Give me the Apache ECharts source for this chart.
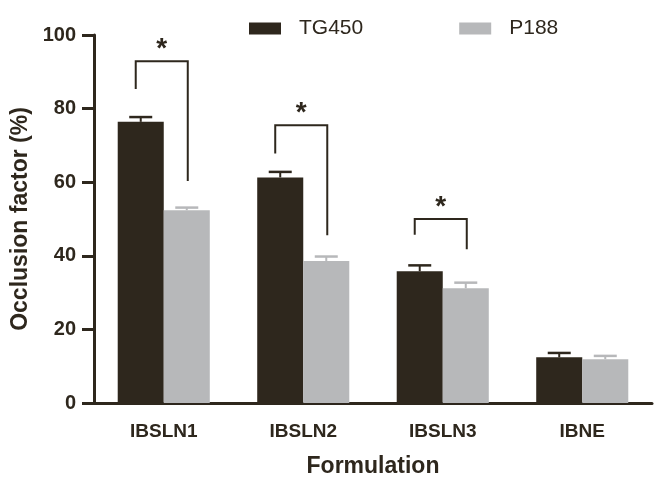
<!DOCTYPE html>
<html>
<head>
<meta charset="utf-8">
<script src="https://cdn.jsdelivr.net/npm/echarts@6/dist/echarts.min.js"></script>
<style>html,body{margin:0;padding:0;background:#fff}#c{width:654px;height:480px}</style>
</head>
<body>
<div id="c"></div>
<script>
var categories = ['IBSLN1', 'IBSLN2', 'IBSLN3', 'IBNE'];
var tg450 = [76.4, 61.3, 35.8, 12.4];
var tg450Err = [1.3, 1.5, 1.6, 1.2];
var p188 = [52.4, 38.6, 31.2, 11.9];
var p188Err = [0.7, 1.2, 1.5, 0.9];
var sigCats = [0, 1, 2];
var sigTop = [92.9, 75.5, 50.0];
var sigLeftEnd = [85.3, 67.8, 45.7];
var sigRightEnd = [60.3, 45.6, 41.8];
var yTicks = [0, 20, 40, 60, 80, 100];

var DARK = '#2e271d';
var GREY = '#b7b8ba';
var FONT = 'Liberation Sans, Arial, sans-serif';
var BAR_FRAC = 0.33;

function errRender(sign, color) {
  return function (params, api) {
    var idx = api.value(0), v = api.value(1), e = api.value(2);
    var band = api.size([1, 0])[0];
    var bw = band * BAR_FRAC;
    var top = api.coord([idx, v + e]);
    var base = api.coord([idx, v]);
    var x = top[0] + sign * bw / 2;
    var cap = 11.5;
    return {
      type: 'group',
      children: [
        {type: 'line', shape: {x1: x, y1: base[1], x2: x, y2: top[1]}, style: {stroke: color, lineWidth: 2}},
        {type: 'line', shape: {x1: x - cap, y1: top[1], x2: x + cap, y2: top[1]}, style: {stroke: color, lineWidth: 2.5}}
      ]
    };
  };
}

function sigRender(params, api) {
  var idx = api.value(0);
  var band = api.size([1, 0])[0];
  var bw = band * BAR_FRAC;
  var c = api.coord([idx, api.value(1)]);
  var lx = c[0] - bw / 2 - 5;
  var rx = c[0] + bw / 2 + 1;
  var ly = api.coord([idx, api.value(2)])[1];
  var ry = api.coord([idx, api.value(3)])[1];
  return {
    type: 'group',
    children: [
      {type: 'polyline', shape: {points: [[lx, ly], [lx, c[1]], [rx, c[1]], [rx, ry]]}, style: {stroke: DARK, lineWidth: 2, fill: null}},
      {type: 'text', style: {text: '*', x: (lx + rx) / 2, y: c[1] - 12, align: 'center', verticalAlign: 'middle', font: 'bold 28px ' + FONT, fill: DARK}}
    ]
  };
}

var chart = echarts.init(document.getElementById('c'), null, {renderer: 'canvas'});
chart.setOption({
  animation: false,
  backgroundColor: '#fff',
  textStyle: {fontFamily: FONT},
  legend: {
    data: ['TG450', 'P188'],
    left: 244, top: 13,
    itemWidth: 32, itemHeight: 12, itemGap: 96,
    icon: 'rect',
    textStyle: {fontSize: 21, color: DARK, fontFamily: FONT, padding: [0, 0, 0, 13]}
  },
  grid: {left: 94, right: 2, top: 35, bottom: 77, containLabel: false, outerBoundsMode: 'none'},
  xAxis: {
    type: 'category',
    data: categories,
    axisLine: {lineStyle: {color: DARK, width: 3}},
    axisTick: {alignWithLabel: true, length: 10, lineStyle: {color: DARK, width: 3}},
    axisLabel: {fontSize: 19, fontWeight: 'bold', color: DARK, margin: 19, fontFamily: FONT},
    name: 'Formulation',
    nameLocation: 'middle',
    nameGap: 52,
    nameTextStyle: {fontSize: 23, fontWeight: 'bold', color: DARK, fontFamily: FONT}
  },
  yAxis: {
    type: 'value',
    min: yTicks[0], max: yTicks[yTicks.length - 1], interval: 20,
    splitLine: {show: false},
    axisLine: {show: true, lineStyle: {color: DARK, width: 3}},
    axisTick: {show: true, length: 12, lineStyle: {color: DARK, width: 3}},
    axisLabel: {fontSize: 20, fontWeight: 'bold', color: DARK, margin: 18, fontFamily: FONT},
    name: 'Occlusion factor (%)',
    nameLocation: 'middle',
    nameGap: 58,
    nameTextStyle: {fontSize: 23, fontWeight: 'bold', color: DARK, fontFamily: FONT}
  },
  series: [
    {name: 'TG450', type: 'bar', data: tg450, barWidth: (BAR_FRAC * 100) + '%', barGap: '0%', itemStyle: {color: DARK}},
    {name: 'P188', type: 'bar', data: p188, barWidth: (BAR_FRAC * 100) + '%', barGap: '0%', itemStyle: {color: GREY}},
    {type: 'custom', renderItem: errRender(-1, DARK), data: tg450.map(function (v, i) { return [i, v, tg450Err[i]]; }), z: 5, silent: true},
    {type: 'custom', renderItem: errRender(1, GREY), data: p188.map(function (v, i) { return [i, v, p188Err[i]]; }), z: 5, silent: true},
    {type: 'custom', renderItem: sigRender, data: sigCats.map(function (c, i) { return [c, sigTop[i], sigLeftEnd[i], sigRightEnd[i]]; }), z: 6, silent: true}
  ]
});
</script>
</body>
</html>
